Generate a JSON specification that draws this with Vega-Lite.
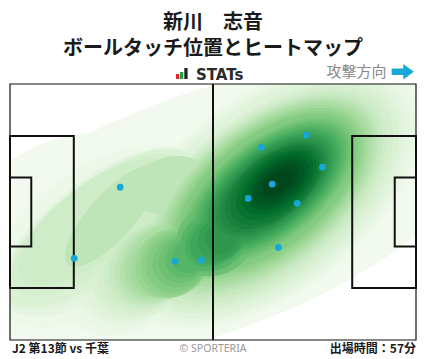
{
  "$schema": "https://vega.github.io/schema/vega-lite/v6.json",
  "width": 406,
  "height": 256,
  "autosize": {"type": "none"},
  "padding": {"left": 10, "top": 84, "right": 12, "bottom": 19},
  "background": "white",
  "config": {"view": {"stroke": null}, "font": "Noto Sans CJK JP"},
  "title": {
    "text": ["新川　志音", "ボールタッチ位置とヒートマップ"],
    "font": "Noto Sans CJK JP",
    "fontSize": 20,
    "fontWeight": "bold",
    "lineHeight": 26,
    "color": "#1a1a1a",
    "anchor": "middle",
    "offset": 5
  },
  "datasets": {
    "heat": [
      {"t": 0.015, "x": 50.43, "y": 33.47, "a": 77.58, "q": "0.4", "rot": -20},
      {"t": 0.015, "x": 21.98, "y": 27.09, "a": 36.2, "q": "0.75", "rot": -10},
      {"t": 0.05, "x": 66.87, "y": 38.54, "a": 46.16, "q": "0.55", "rot": -38},
      {"t": 0.05, "x": 30.83, "y": 17.58, "a": 19.14, "q": "0.75", "rot": -35},
      {"t": 0.05, "x": 23.27, "y": 27.62, "a": 32.33, "q": "0.55", "rot": -35},
      {"t": 0.075, "x": 66.67, "y": 38.4, "a": 44.62, "q": "0.55", "rot": -38},
      {"t": 0.075, "x": 31.81, "y": 17.98, "a": 17.85, "q": "0.75", "rot": -35},
      {"t": 0.1, "x": 66.46, "y": 38.25, "a": 43.08, "q": "0.55", "rot": -38},
      {"t": 0.1, "x": 32.79, "y": 18.38, "a": 16.55, "q": "0.75", "rot": -35},
      {"t": 0.1, "x": 23.79, "y": 28.69, "a": 31.03, "q": "0.45", "rot": -37.6},
      {"t": 0.125, "x": 66.42, "y": 38.0, "a": 41.6, "q": "0.55", "rot": -38},
      {"t": 0.125, "x": 33.87, "y": 18.66, "a": 15.8, "q": "0.75", "rot": -35},
      {"t": 0.125, "x": 23.53, "y": 29.22, "a": 30.4, "q": "0.4", "rot": -37.6},
      {"t": 0.15, "x": 66.38, "y": 37.74, "a": 40.13, "q": "0.53", "rot": -38},
      {"t": 0.15, "x": 34.94, "y": 18.94, "a": 15.0, "q": "0.75", "rot": -35},
      {"t": 0.15, "x": 23.27, "y": 29.75, "a": 29.74, "q": "0.4", "rot": -37.6},
      {"t": 0.175, "x": 66.1, "y": 37.77, "a": 38.69, "q": "0.53", "rot": -38},
      {"t": 0.175, "x": 35.99, "y": 19.7, "a": 14.5, "q": "0.75", "rot": -35},
      {"t": 0.175, "x": 22.63, "y": 30.55, "a": 26.8, "q": "0.4", "rot": -37.6},
      {"t": 0.2, "x": 65.81, "y": 37.8, "a": 37.24, "q": "0.53", "rot": -38},
      {"t": 0.2, "x": 37.03, "y": 20.45, "a": 13.96, "q": "0.75", "rot": -35},
      {"t": 0.2, "x": 21.98, "y": 31.34, "a": 23.79, "q": "0.4", "rot": -37.6},
      {"t": 0.23, "x": 65.87, "y": 38.09, "a": 35.85, "q": "0.53", "rot": -38},
      {"t": 0.23, "x": 37.91, "y": 20.57, "a": 13.3, "q": "0.75", "rot": -35},
      {"t": 0.26, "x": 65.92, "y": 38.38, "a": 34.45, "q": "0.53", "rot": -38},
      {"t": 0.26, "x": 38.79, "y": 20.69, "a": 12.67, "q": "0.75", "rot": -35},
      {"t": 0.26, "x": 26.38, "y": 32.93, "a": 16.81, "q": "0.35", "rot": -47.5},
      {"t": 0.26, "x": 41.38, "y": 41.17, "a": 10.34, "q": "0.7", "rot": -16},
      {"t": 0.29, "x": 66.04, "y": 38.53, "a": 33.27, "q": "0.53", "rot": -38},
      {"t": 0.29, "x": 39.46, "y": 20.87, "a": 12.0, "q": "0.75", "rot": -35},
      {"t": 0.32, "x": 66.15, "y": 38.67, "a": 32.09, "q": "0.53", "rot": -38},
      {"t": 0.32, "x": 40.13, "y": 21.04, "a": 11.38, "q": "0.75", "rot": -35},
      {"t": 0.35, "x": 66.26, "y": 38.82, "a": 30.9, "q": "0.53", "rot": -38},
      {"t": 0.35, "x": 41.1, "y": 20.77, "a": 10.74, "q": "0.75", "rot": -35},
      {"t": 0.38, "x": 66.36, "y": 38.96, "a": 29.71, "q": "0.53", "rot": -38},
      {"t": 0.38, "x": 42.07, "y": 20.5, "a": 10.09, "q": "0.85", "rot": -35},
      {"t": 0.41, "x": 66.5, "y": 39.14, "a": 28.49, "q": "0.53", "rot": -38},
      {"t": 0.41, "x": 42.77, "y": 20.64, "a": 9.44, "q": "0.85", "rot": -35},
      {"t": 0.44, "x": 66.64, "y": 39.31, "a": 27.26, "q": "0.53", "rot": -38},
      {"t": 0.44, "x": 43.47, "y": 20.77, "a": 8.79, "q": "0.85", "rot": -35},
      {"t": 0.47, "x": 66.73, "y": 39.46, "a": 26.1, "q": "0.5", "rot": -38},
      {"t": 0.47, "x": 44.2, "y": 21.1, "a": 7.76, "q": "0.85", "rot": -35},
      {"t": 0.5, "x": 66.82, "y": 39.6, "a": 24.93, "q": "0.5", "rot": -38},
      {"t": 0.5, "x": 53.17, "y": 26.93, "a": 10.86, "q": "0.85", "rot": -35},
      {"t": 0.5, "x": 44.92, "y": 21.43, "a": 6.72, "q": "0.85", "rot": -35},
      {"t": 0.53, "x": 66.95, "y": 39.74, "a": 23.8, "q": "0.5", "rot": -38},
      {"t": 0.53, "x": 53.2, "y": 26.88, "a": 10.35, "q": "0.75", "rot": -35},
      {"t": 0.53, "x": 45.74, "y": 21.85, "a": 5.82, "q": "0.85", "rot": -35},
      {"t": 0.56, "x": 67.08, "y": 39.87, "a": 22.68, "q": "0.5", "rot": -38},
      {"t": 0.56, "x": 53.22, "y": 26.83, "a": 9.83, "q": "0.75", "rot": -35},
      {"t": 0.56, "x": 46.55, "y": 22.26, "a": 4.91, "q": "0.85", "rot": -35},
      {"t": 0.59, "x": 67.21, "y": 39.98, "a": 21.59, "q": "0.5", "rot": -38},
      {"t": 0.59, "x": 53.62, "y": 26.92, "a": 9.06, "q": "0.7", "rot": -35},
      {"t": 0.62, "x": 67.34, "y": 40.08, "a": 20.49, "q": "0.5", "rot": -38},
      {"t": 0.62, "x": 54.02, "y": 27.01, "a": 8.28, "q": "0.7", "rot": -35},
      {"t": 0.65, "x": 67.46, "y": 40.18, "a": 19.36, "q": "0.5", "rot": -38},
      {"t": 0.65, "x": 54.36, "y": 27.0, "a": 6.2, "q": "0.85", "rot": -35},
      {"t": 0.68, "x": 67.57, "y": 40.27, "a": 18.23, "q": "0.5", "rot": -38},
      {"t": 0.68, "x": 54.69, "y": 26.99, "a": 4.14, "q": "1", "rot": -35},
      {"t": 0.71, "x": 67.73, "y": 40.39, "a": 17.13, "q": "0.5", "rot": -38},
      {"t": 0.74, "x": 67.88, "y": 40.5, "a": 16.03, "q": "0.5", "rot": -38},
      {"t": 0.77, "x": 68.2, "y": 40.74, "a": 14.74, "q": "0.53", "rot": -38},
      {"t": 0.8, "x": 68.53, "y": 40.98, "a": 13.45, "q": "0.55", "rot": -38},
      {"t": 0.83, "x": 68.89, "y": 41.26, "a": 12.09, "q": "0.55", "rot": -38},
      {"t": 0.86, "x": 69.25, "y": 41.54, "a": 10.73, "q": "0.55", "rot": -38},
      {"t": 0.89, "x": 69.33, "y": 41.65, "a": 9.31, "q": "0.55", "rot": -38},
      {"t": 0.92, "x": 69.41, "y": 41.75, "a": 7.89, "q": "0.55", "rot": -38},
      {"t": 0.945, "x": 69.4, "y": 41.83, "a": 6.3, "q": "0.55", "rot": -38},
      {"t": 0.97, "x": 69.38, "y": 41.91, "a": 4.72, "q": "0.55", "rot": -38}
    ],
    "frame": [{"x": 0, "x2": 105, "y": 0, "y2": 68}],
    "pitch": [
      {"x": 0, "x2": 16.5, "y": 13.84, "y2": 54.16},
      {"x": 0, "x2": 5.5, "y": 24.84, "y2": 43.16},
      {"x": 88.5, "x2": 105, "y": 13.84, "y2": 54.16},
      {"x": 99.5, "x2": 105, "y": 24.84, "y2": 43.16}
    ],
    "half": [{"x": 52.5, "y": 0, "y2": 68}],
    "touches": [
      {"x": 28.5, "y": 40.6},
      {"x": 16.6, "y": 21.7},
      {"x": 42.7, "y": 20.9},
      {"x": 49.5, "y": 21.2},
      {"x": 76.6, "y": 54.4},
      {"x": 65.0, "y": 51.2},
      {"x": 80.8, "y": 45.9},
      {"x": 67.8, "y": 41.4},
      {"x": 61.6, "y": 37.6},
      {"x": 74.3, "y": 36.3},
      {"x": 69.4, "y": 24.6}
    ],
    "logo": [
      {"part": "a", "x": 42.93, "x2": 43.78, "y": 69.32, "y2": 70.65},
      {"part": "b", "x": 43.96, "x2": 44.82, "y": 69.32, "y2": 71.18},
      {"part": "c", "x": 45.08, "x2": 45.93, "y": 69.32, "y2": 72.24}
    ],
    "stats": [{"label": "STATs", "x": 48.1, "y": 70.38}],
    "dir": [{"label": "攻撃方向", "x": 97.4, "y": 71.3}],
    "arrow": [{"x": 101.58, "y": 71.26}],
    "footL": [{"label": "J2 第13節 vs 千葉", "x": 0.5, "y": -2.26}],
    "footC": [{"label": "© SPORTERIA", "x": 52.5, "y": -2.26}],
    "footR": [{"label": "出場時間：57分", "x": 105, "y": -2.26}]
  },
  "encoding": {
    "x": {"field": "x", "type": "quantitative", "scale": {"domain": [0, 105], "nice": false, "zero": false}, "axis": null},
    "y": {"field": "y", "type": "quantitative", "scale": {"domain": [0, 68], "nice": false, "zero": false}, "axis": null}
  },
  "layer": [
    {
      "data": {"name": "heat"},
      "mark": {"type": "point", "filled": true, "opacity": 1, "strokeWidth": 0, "clip": true},
      "encoding": {
        "color": {
          "field": "t", "type": "quantitative", "legend": null,
          "scale": {
            "domain": [-0.02, 0.105, 0.23, 0.355, 0.48, 0.605, 0.73, 0.855, 0.98],
            "range": ["#f7fcf5", "#e5f5e0", "#c7e9c0", "#a1d99b", "#74c476", "#41ab5d", "#238b45", "#006d2c", "#00441b"],
            "clamp": true
          }
        },
        "size": {"field": "a", "type": "quantitative", "scale": {"type": "pow", "exponent": 2, "domain": [0, 100], "range": [0, 598148]}, "legend": null},
        "shape": {
          "field": "q", "type": "nominal", "legend": null,
          "scale": {
            "domain": ["0.35", "0.4", "0.45", "0.5", "0.53", "0.55", "0.7", "0.75", "0.85", "1"],
            "range": [
              "M 1 0 C 1 0.1933 0.5523 0.35 0 0.35 C -0.5523 0.35 -1 0.1933 -1 0 C -1 -0.1933 -0.5523 -0.35 0 -0.35 C 0.5523 -0.35 1 -0.1933 1 0 Z",
              "M 1 0 C 1 0.2209 0.5523 0.4 0 0.4 C -0.5523 0.4 -1 0.2209 -1 0 C -1 -0.2209 -0.5523 -0.4 0 -0.4 C 0.5523 -0.4 1 -0.2209 1 0 Z",
              "M 1 0 C 1 0.2485 0.5523 0.45 0 0.45 C -0.5523 0.45 -1 0.2485 -1 0 C -1 -0.2485 -0.5523 -0.45 0 -0.45 C 0.5523 -0.45 1 -0.2485 1 0 Z",
              "M 1 0 C 1 0.2762 0.5523 0.5 0 0.5 C -0.5523 0.5 -1 0.2762 -1 0 C -1 -0.2762 -0.5523 -0.5 0 -0.5 C 0.5523 -0.5 1 -0.2762 1 0 Z",
              "M 1 0 C 1 0.2927 0.5523 0.53 0 0.53 C -0.5523 0.53 -1 0.2927 -1 0 C -1 -0.2927 -0.5523 -0.53 0 -0.53 C 0.5523 -0.53 1 -0.2927 1 0 Z",
              "M 1 0 C 1 0.3038 0.5523 0.55 0 0.55 C -0.5523 0.55 -1 0.3038 -1 0 C -1 -0.3038 -0.5523 -0.55 0 -0.55 C 0.5523 -0.55 1 -0.3038 1 0 Z",
              "M 1 0 C 1 0.3866 0.5523 0.7 0 0.7 C -0.5523 0.7 -1 0.3866 -1 0 C -1 -0.3866 -0.5523 -0.7 0 -0.7 C 0.5523 -0.7 1 -0.3866 1 0 Z",
              "M 1 0 C 1 0.4142 0.5523 0.75 0 0.75 C -0.5523 0.75 -1 0.4142 -1 0 C -1 -0.4142 -0.5523 -0.75 0 -0.75 C 0.5523 -0.75 1 -0.4142 1 0 Z",
              "M 1 0 C 1 0.4695 0.5523 0.85 0 0.85 C -0.5523 0.85 -1 0.4695 -1 0 C -1 -0.4695 -0.5523 -0.85 0 -0.85 C 0.5523 -0.85 1 -0.4695 1 0 Z",
              "M 1 0 C 1 0.5523 0.5523 1 0 1 C -0.5523 1 -1 0.5523 -1 0 C -1 -0.5523 -0.5523 -1 0 -1 C 0.5523 -1 1 -0.5523 1 0 Z"
            ]
          }
        },
        "angle": {"field": "rot", "type": "quantitative", "scale": null},
        "order": {"field": "t", "type": "quantitative"}
      }
    },
    {
      "data": {"name": "frame"},
      "mark": {"type": "rect", "fill": null, "fillOpacity": 0, "stroke": "#111111", "strokeWidth": 1.2},
      "encoding": {"x2": {"field": "x2"}, "y2": {"field": "y2"}}
    },
    {
      "data": {"name": "pitch"},
      "mark": {"type": "rect", "fill": null, "fillOpacity": 0, "stroke": "#111111", "strokeWidth": 2},
      "encoding": {"x2": {"field": "x2"}, "y2": {"field": "y2"}}
    },
    {
      "data": {"name": "half"},
      "mark": {"type": "rule", "stroke": "#111111", "strokeWidth": 2},
      "encoding": {"y2": {"field": "y2"}}
    },
    {
      "data": {"name": "touches"},
      "mark": {"type": "point", "shape": "circle", "filled": true, "opacity": 1, "color": "#17a6d8", "size": 45, "strokeWidth": 0}
    },
    {
      "data": {"name": "logo"},
      "mark": {"type": "rect"},
      "encoding": {
        "x2": {"field": "x2"}, "y2": {"field": "y2"},
        "fill": {"field": "part", "type": "nominal", "scale": {"domain": ["a", "b", "c"], "range": ["#e3262d", "#1f9e48", "#222222"]}, "legend": null}
      }
    },
    {
      "data": {"name": "stats"},
      "mark": {"type": "text", "align": "left", "baseline": "middle", "font": "DejaVu Sans", "fontWeight": "bold", "fontSize": 15, "color": "#2b2b2b"},
      "encoding": {"text": {"field": "label"}}
    },
    {
      "data": {"name": "dir"},
      "mark": {"type": "text", "align": "right", "baseline": "middle", "font": "Noto Sans CJK JP", "fontSize": 15, "color": "#8a8a8a"},
      "encoding": {"text": {"field": "label"}}
    },
    {
      "data": {"name": "arrow"},
      "mark": {"type": "point", "filled": true, "opacity": 1, "strokeWidth": 0, "color": "#18a8d8", "size": 497, "shape": "M -1 -0.3 L 0.04 -0.3 L 0.04 -0.69 L 1 0 L 0.04 0.69 L 0.04 0.3 L -1 0.3 Z"}
    },
    {
      "data": {"name": "footL"},
      "mark": {"type": "text", "align": "left", "baseline": "middle", "font": "Noto Sans CJK JP", "fontWeight": "bold", "fontSize": 12, "color": "#1a1a1a"},
      "encoding": {"text": {"field": "label"}}
    },
    {
      "data": {"name": "footC"},
      "mark": {"type": "text", "align": "center", "baseline": "middle", "font": "Noto Sans", "fontSize": 10.5, "color": "#9a9a9a"},
      "encoding": {"text": {"field": "label"}}
    },
    {
      "data": {"name": "footR"},
      "mark": {"type": "text", "align": "right", "baseline": "middle", "font": "Noto Sans CJK JP", "fontWeight": "bold", "fontSize": 12, "color": "#1a1a1a"},
      "encoding": {"text": {"field": "label"}}
    }
  ]
}
